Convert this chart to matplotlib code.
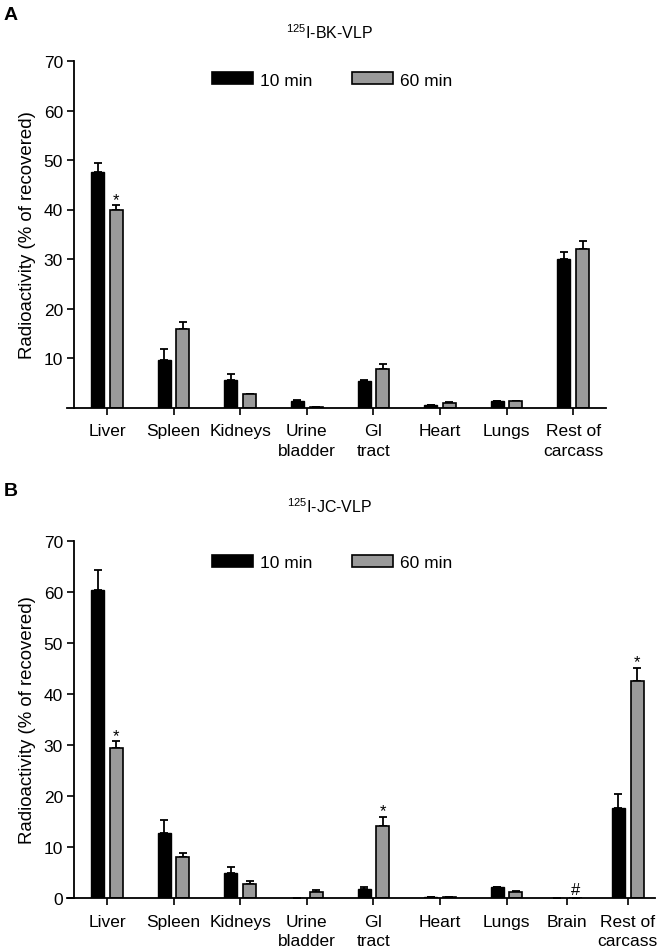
import numpy as np
import matplotlib
matplotlib.use('Agg')
import matplotlib.pyplot as plt
from matplotlib.patches import Patch

plt.rcParams['font.family'] = 'Liberation Sans'
plt.rcParams['mathtext.fontset'] = 'custom'
plt.rcParams['mathtext.rm'] = 'Liberation Sans'

# panel A: 125I-BK-VLP
organs_a = ['Liver', 'Spleen', 'Kidneys', 'Urine\nbladder', 'GI\ntract',
            'Heart', 'Lungs', 'Rest of\ncarcass']
bk_10 = [47.5, 9.5, 5.6, 1.3, 5.4, 0.5, 1.3, 29.9]
bk_10_err = [1.9, 2.3, 1.2, 0.2, 0.1, 0.1, 0.1, 1.6]
bk_60 = [39.8, 15.9, 2.7, 0.2, 7.8, 1.0, 1.3, 32.0]
bk_60_err = [1.1, 1.3, 0.1, 0.0, 1.0, 0.1, 0.1, 1.6]
marks_a = {0: '*'}

# panel B: 125I-JC-VLP
organs_b = ['Liver', 'Spleen', 'Kidneys', 'Urine\nbladder', 'GI\ntract',
            'Heart', 'Lungs', 'Brain', 'Rest of\ncarcass']
jc_10 = [60.3, 12.7, 5.0, 0.1, 1.8, 0.2, 2.15, 0.0, 17.6]
jc_10_err = [4.0, 2.7, 1.1, 0.0, 0.4, 0.0, 0.1, 0.0, 2.8]
jc_60 = [29.4, 8.1, 2.8, 1.3, 14.1, 0.2, 1.2, 0.15, 42.6]
jc_60_err = [1.3, 0.8, 0.5, 0.4, 1.9, 0.0, 0.2, 0.0, 2.5]
marks_b = {0: '*', 4: '*', 7: '#', 8: '*'}

GRAY = '#9a9a9a'
W, H = 660, 953


def draw(ax, x, names, v10, e10, v60, e60, marks, yticks, xlim, width_px):
    w, off = 0.195, 0.14
    v10, e10, v60, e60 = map(np.array, (v10, e10, v60, e60))
    ax.bar(x - off, v10, w, color='black', edgecolor='black', lw=1.0, zorder=2)
    ax.bar(x + off, v60, w, color=GRAY, edgecolor='black', lw=1.2, zorder=2)
    ax.errorbar(x - off, v10, yerr=[np.zeros(len(v10)), e10], fmt='none',
                ecolor='black', elinewidth=1.3, capsize=3, capthick=1.3, zorder=1)
    ax.errorbar(x + off, v60, yerr=[np.zeros(len(v60)), e60], fmt='none',
                ecolor='black', elinewidth=1.3, capsize=3, capthick=1.3, zorder=1)
    for i, m in marks.items():
        dy = 1.0 if m == '*' else 2.5
        ax.annotate(m, (x[i] + off, v60[i] + e60[i]), xytext=(0, dy),
                    textcoords='offset points', ha='center', va='baseline',
                    fontsize=12)
    ax.set_xlim(*xlim)
    ax.set_ylim(0, 70)
    ax.set_xticks(x)
    ax.set_xticklabels(names, linespacing=1.4)
    ax.set_yticks(yticks)
    for s in ['top', 'right']:
        ax.spines[s].set_visible(False)
    ax.spines['left'].set_position(('axes', 7 / width_px))
    for s in ['left', 'bottom']:
        ax.spines[s].set_linewidth(1.3)
    ax.tick_params(axis='both', length=5, width=1.2, labelsize=12.5)
    ax.tick_params(axis='y', pad=3)
    ax.tick_params(axis='x', pad=6)
    ax.set_ylabel('Radioactivity (% of recovered)', fontsize=13.4)
    ax.yaxis.set_label_coords((36 - 67) / width_px, 0.5)


fig = plt.figure(figsize=(W / 100, H / 100), dpi=100)

# axes placed in pixel terms of the reference
ax_a = fig.add_axes([67 / W, (H - 408.5) / H, 539 / W, 346.5 / H])
ax_b = fig.add_axes([67 / W, (H - 899.3) / H, 588 / W, 357.6 / H])

xa = np.arange(len(organs_a), dtype=float)
xb = np.array([0, 1, 2, 3, 4, 5, 6, 6.9, 7.82])
sp = 66.6
draw(ax_a, xa, organs_a, bk_10, bk_10_err, bk_60, bk_60_err, marks_a,
     [10, 20, 30, 40, 50, 60, 70], ((67 - 107) / sp, (606 - 107) / sp), 539)
draw(ax_b, xb, organs_b, jc_10, jc_10_err, jc_60, jc_60_err, marks_b,
     [0, 10, 20, 30, 40, 50, 60, 70], ((67 - 107) / sp, (655 - 107) / sp), 588)

handles = [Patch(facecolor='black', edgecolor='black', lw=1.2, label='10 min'),
           Patch(facecolor=GRAY, edgecolor='black', lw=1.2, label='60 min')]
for ax, yc in [(ax_a, 81), (ax_b, 563.5)]:
    ax.legend(handles=handles, ncol=2, frameon=False, fontsize=12.5,
              loc='center left', bbox_to_anchor=(212 / W, 1 - yc / H),
              bbox_transform=fig.transFigure, borderpad=0, borderaxespad=0,
              handlelength=2.36, handleheight=0.69, handletextpad=0.4,
              columnspacing=2.3)

fig.text(330 / W, 1 - 33 / H, r'$\mathregular{^{125}}$I-BK-VLP', ha='center',
         va='center', fontsize=11.5)
fig.text(330 / W, 1 - 507 / H, r'$\mathregular{^{125}}$I-JC-VLP', ha='center',
         va='center', fontsize=11.5)
fig.text(4 / W, 1 - 15 / H, 'A', fontsize=14, weight='bold', va='center')
fig.text(4 / W, 1 - 492 / H, 'B', fontsize=14, weight='bold', va='center')

fig.savefig('out.png', dpi=100)
